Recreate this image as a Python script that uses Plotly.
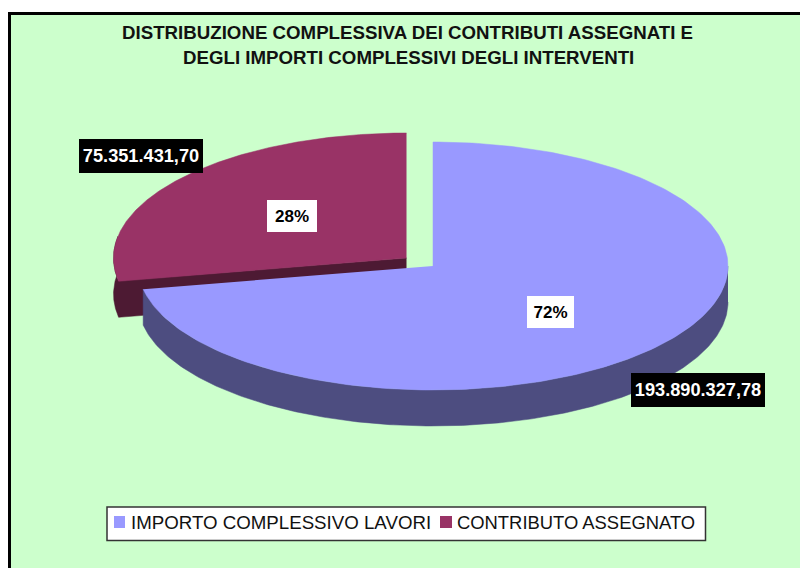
import numpy as np
import plotly.graph_objects as go

names = ["IMPORTO COMPLESSIVO LAVORI", "CONTRIBUTO ASSEGNATO"]
values = [193890327.78, 75351431.70]
top_colors = ["#9999FF", "#993366"]
side_colors = ["#4D4D80", "#4D1A33"]
title_lines = ["DISTRIBUZIONE COMPLESSIVA DEI CONTRIBUTI ASSEGNATI E",
               "DEGLI IMPORTI COMPLESSIVI DEGLI INTERVENTI"]

FONT = "Liberation Sans, Arial, sans-serif"
DEPTH = 36
centers = [(433, 266), (406.5, 258)]
radii = [(295, 124), (293, 125)]

total = sum(values)
end_blue = 360 * values[0] / total


def pt(c, r, deg, dy=0):
    a = np.radians(deg)
    return c[0] + r[0] * np.sin(a), c[1] - r[1] * np.cos(a) + dy


def arc(c, r, a0, a1, dy=0):
    return pt(c, r, np.linspace(a0, a1, 240), dy)


def poly(x, y, color, name=None, show=False):
    return go.Scatter(x=list(x), y=list(y), mode="lines", fill="toself", fillcolor=color,
                      line=dict(color=color, width=0.5), hoverinfo="name" if name else "skip",
                      name=name or "", showlegend=show)


fig = go.Figure()

# Contributo: exposed cut face and outer wall as one outline, then top face
c, r = centers[1], radii[1]
ax, ay = arc(c, r, end_blue, 280)
bx, by = arc(c, r, end_blue, 280, DEPTH)
fig.add_trace(poly(np.r_[c[0], ax, bx[::-1], c[0]], np.r_[c[1], ay, by[::-1], c[1] + DEPTH], side_colors[1]))
ax, ay = arc(c, r, end_blue, 360)
fig.add_trace(poly(np.r_[c[0], ax], np.r_[c[1], ay], top_colors[1], names[1]))

# Importo: outer wall, top face
c, r = centers[0], radii[0]
ax, ay = arc(c, r, 90, end_blue)
bx, by = arc(c, r, 90, end_blue, DEPTH)
fig.add_trace(poly(np.r_[ax, bx[::-1]], np.r_[ay, by[::-1]], side_colors[0]))
ax, ay = arc(c, r, 0, end_blue)
fig.add_trace(poly(np.r_[c[0], ax], np.r_[c[1], ay], top_colors[0], names[0]))


def it(v):
    return f"{v:,.2f}".replace(",", "X").replace(".", ",").replace("X", ".")


def note(x, y, text, size, color="black", bg=None, w=None, h=None, bold=False):
    fig.add_annotation(x=x, y=y, xref="x", yref="y", text=f"<b>{text}</b>" if bold else text,
                       showarrow=False, xanchor="center", yanchor="middle", align="center",
                       font=dict(family=FONT, size=size, color=color), bgcolor=bg,
                       width=w, height=h, borderpad=0, borderwidth=0)


note(407.5, 32, title_lines[0], 18.7, "#111111", bold=True)
note(408.5, 57, title_lines[1], 18.7, "#111111", bold=True)
note(141, 156, it(values[1]), 18.2, "white", "black", 124, 34, True)
note(698, 389.5, it(values[0]), 18.2, "white", "black", 134, 34, True)
note(292, 216, f"{values[1] / total:.0%}", 17, "black", "white", 50, 32, True)
note(550.5, 312, f"{values[0] / total:.0%}", 17, "black", "white", 47, 32, True)

# Legend box
shapes = [
    dict(type="rect", layer="below", x0=9.5, y0=13.5, x1=810, y1=580,
         fillcolor="#CCFFCC", line=dict(color="black", width=3)),
    dict(type="rect", layer="above", x0=107, y0=507, x1=705.5, y1=540.5,
         fillcolor="white", line=dict(color="#333333", width=1.5)),
    dict(type="rect", layer="above", x0=114, y0=516, x1=125, y1=528,
         fillcolor=top_colors[0], line=dict(width=0)),
    dict(type="rect", layer="above", x0=440, y0=516, x1=452, y1=528,
         fillcolor=top_colors[1], line=dict(width=0)),
]
fig.add_annotation(x=130, y=522, xref="x", yref="y", text=names[0], showarrow=False, xanchor="left",
                   yanchor="middle", xshift=-1, font=dict(family=FONT, size=18.7, color="#111111"))
fig.add_annotation(x=456, y=522, xref="x", yref="y", text=names[1], showarrow=False, xanchor="left",
                   yanchor="middle", xshift=-1, font=dict(family=FONT, size=18.4, color="#111111"))

fig.update_layout(width=800, height=568, margin=dict(l=0, r=0, t=0, b=0),
                  paper_bgcolor="white", plot_bgcolor="white", showlegend=False, shapes=shapes,
                  xaxis=dict(range=[0, 800], visible=False, fixedrange=True),
                  yaxis=dict(range=[568, 0], visible=False, fixedrange=True))
fig.write_html("out.html", config=dict(displayModeBar=False),
               post_script="document.body.style.margin='0';document.documentElement.style.overflow='hidden';")
